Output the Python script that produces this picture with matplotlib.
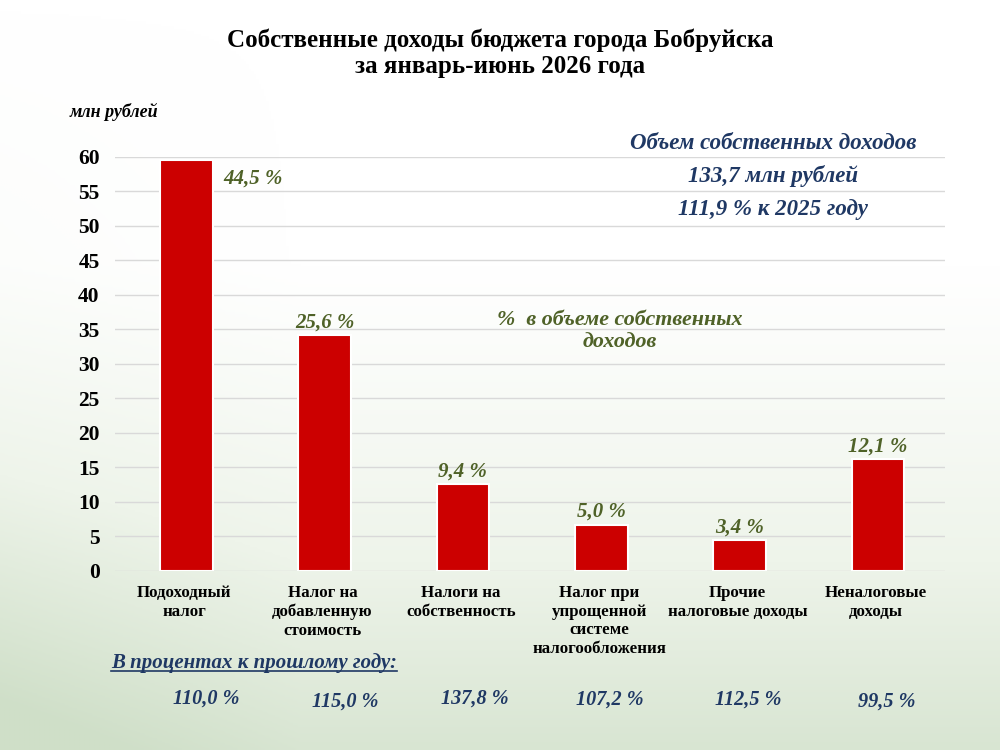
import numpy as np
import matplotlib
matplotlib.use('Agg')
import matplotlib.pyplot as plt
from matplotlib.colors import LinearSegmentedColormap
import matplotlib.transforms as mtransforms

plt.rcParams['font.family'] = ['Liberation Serif', 'DejaVu Serif']

# data
categories = ['Подоходный\nналог', 'Налог на\nдобавленную\nстоимость', 'Налоги на\nсобственность',
              'Налог при\nупрощенной\nсистеме\nналогообложения', 'Прочие\nналоговые доходы',
              'Неналоговые\nдоходы']
values = [59.5, 34.2, 12.6, 6.7, 4.5, 16.2]            # млн рублей
shares = ['44,5 %', '25,6 %', '9,4 %', '5,0 %', '3,4 %', '12,1 %']
growth = ['110,0 %', '115,0 %', '137,8 %', '107,2 %', '112,5 %', '99,5 %']
yticks = np.arange(0, 61, 5)

# layout of the bottom row (shift from bar centre, figure y)
growth_dx = [0.16, 0.165, 0.10, 0.075, 0.075, 0.08]
growth_y = [0.068, 0.064, 0.068, 0.067, 0.067, 0.064]

green = '#4f6228'
navy = '#1f3864'
red = '#cc0000'

fig = plt.figure(figsize=(10, 7.5), dpi=100)

# background: white at the top, pale green towards the bottom and left edge
bg = fig.add_axes([0, 0, 1, 1], zorder=-10)
bg.axis('off')
yy, xx = np.mgrid[0:1:300j, 0:1:400j]   # yy = 0 at the top
t = np.clip((yy - 0.35) / 0.65, 0, 1) ** 1.1 * 0.85 + 0.25 * np.clip(0.3 - xx, 0, 1) / 0.3 * yy
t = np.clip(t, 0, 1)
cmap = LinearSegmentedColormap.from_list('bg', ['#ffffff', '#eef4ea', '#cfdfc8'])
bg.imshow(t, cmap=cmap, aspect='auto', extent=[0, 1, 0, 1], origin='upper', vmin=0, vmax=1)
bg.set_xlim(0, 1)
bg.set_ylim(0, 1)

ax = fig.add_axes([0.115, 0.2387, 0.83, 0.552])
ax.patch.set_alpha(0)
x = np.arange(len(values))
ax.bar(x + 0.015, values, width=0.38, color=red, edgecolor='white', linewidth=1.5, zorder=3)
ax.set_xlim(-0.5, len(values) - 0.5)
ax.set_ylim(0, 60)
ax.set_yticks(yticks)
ax.set_yticklabels([str(v) for v in yticks], fontsize=15.5, fontweight='bold')
ax.set_xticks(x)
ax.set_xticklabels(categories, fontsize=12.2, fontweight='bold', linespacing=1.22, va='top')
ax.tick_params(axis='both', length=0)
ax.tick_params(axis='x', pad=10)
ax.tick_params(axis='y', pad=11)
ax.grid(axis='y', color='#d9d9d9', linewidth=1, zorder=0)
for s in ax.spines.values():
    s.set_visible(False)

# share labels
for i, (v, s) in enumerate(zip(values, shares)):
    if i == 0:
        ax.annotate(s, (i + 0.21, v), xytext=(7, -6), textcoords='offset points',
                    ha='left', va='top', fontsize=15, fontstyle='italic', fontweight='bold', color=green)
    else:
        ax.annotate(s, (i + 0.015, v), xytext=(0, 2), textcoords='offset points',
                    ha='center', va='bottom', fontsize=15, fontstyle='italic', fontweight='bold', color=green)

# titles and notes
fig.text(0.5, 0.929, 'Собственные доходы бюджета города Бобруйска\nза январь-июнь 2026 года',
         ha='center', va='center', fontsize=18, fontweight='bold', linespacing=1.15)
fig.text(0.07, 0.851, 'млн рублей', ha='left', va='center', fontsize=13,
         fontstyle='italic', fontweight='bold')
for k, line in enumerate(['Объем собственных доходов', '133,7 млн рублей', '111,9 % к 2025 году']):
    fig.text(0.773, 0.809 - k * 0.044, line, ha='center', va='center', fontsize=16.5,
             fontstyle='italic', fontweight='bold', color=navy)
fig.text(0.62, 0.559, '%  в объеме собственных\nдоходов', ha='center', va='center', fontsize=15.8,
         fontstyle='italic', fontweight='bold', color=green, linespacing=1.15)

note = fig.text(0.111, 0.116, 'В процентах к прошлому году:', ha='left', va='center', fontsize=15,
                fontstyle='italic', fontweight='bold', color=navy)
fig.canvas.draw()
bb = note.get_window_extent().transformed(fig.transFigure.inverted())
fig.add_artist(plt.Line2D([bb.x0, bb.x1], [bb.y0 + 0.003, bb.y0 + 0.003], color=navy, linewidth=1.2,
                          transform=fig.transFigure))

trans = mtransforms.blended_transform_factory(ax.transData, fig.transFigure)
for i, g in enumerate(growth):
    ax.text(i + growth_dx[i], growth_y[i], g, transform=trans, ha='center', va='center', fontsize=14.6,
            fontstyle='italic', fontweight='bold', color=navy, clip_on=False)

fig.savefig('out.png', dpi=100)
